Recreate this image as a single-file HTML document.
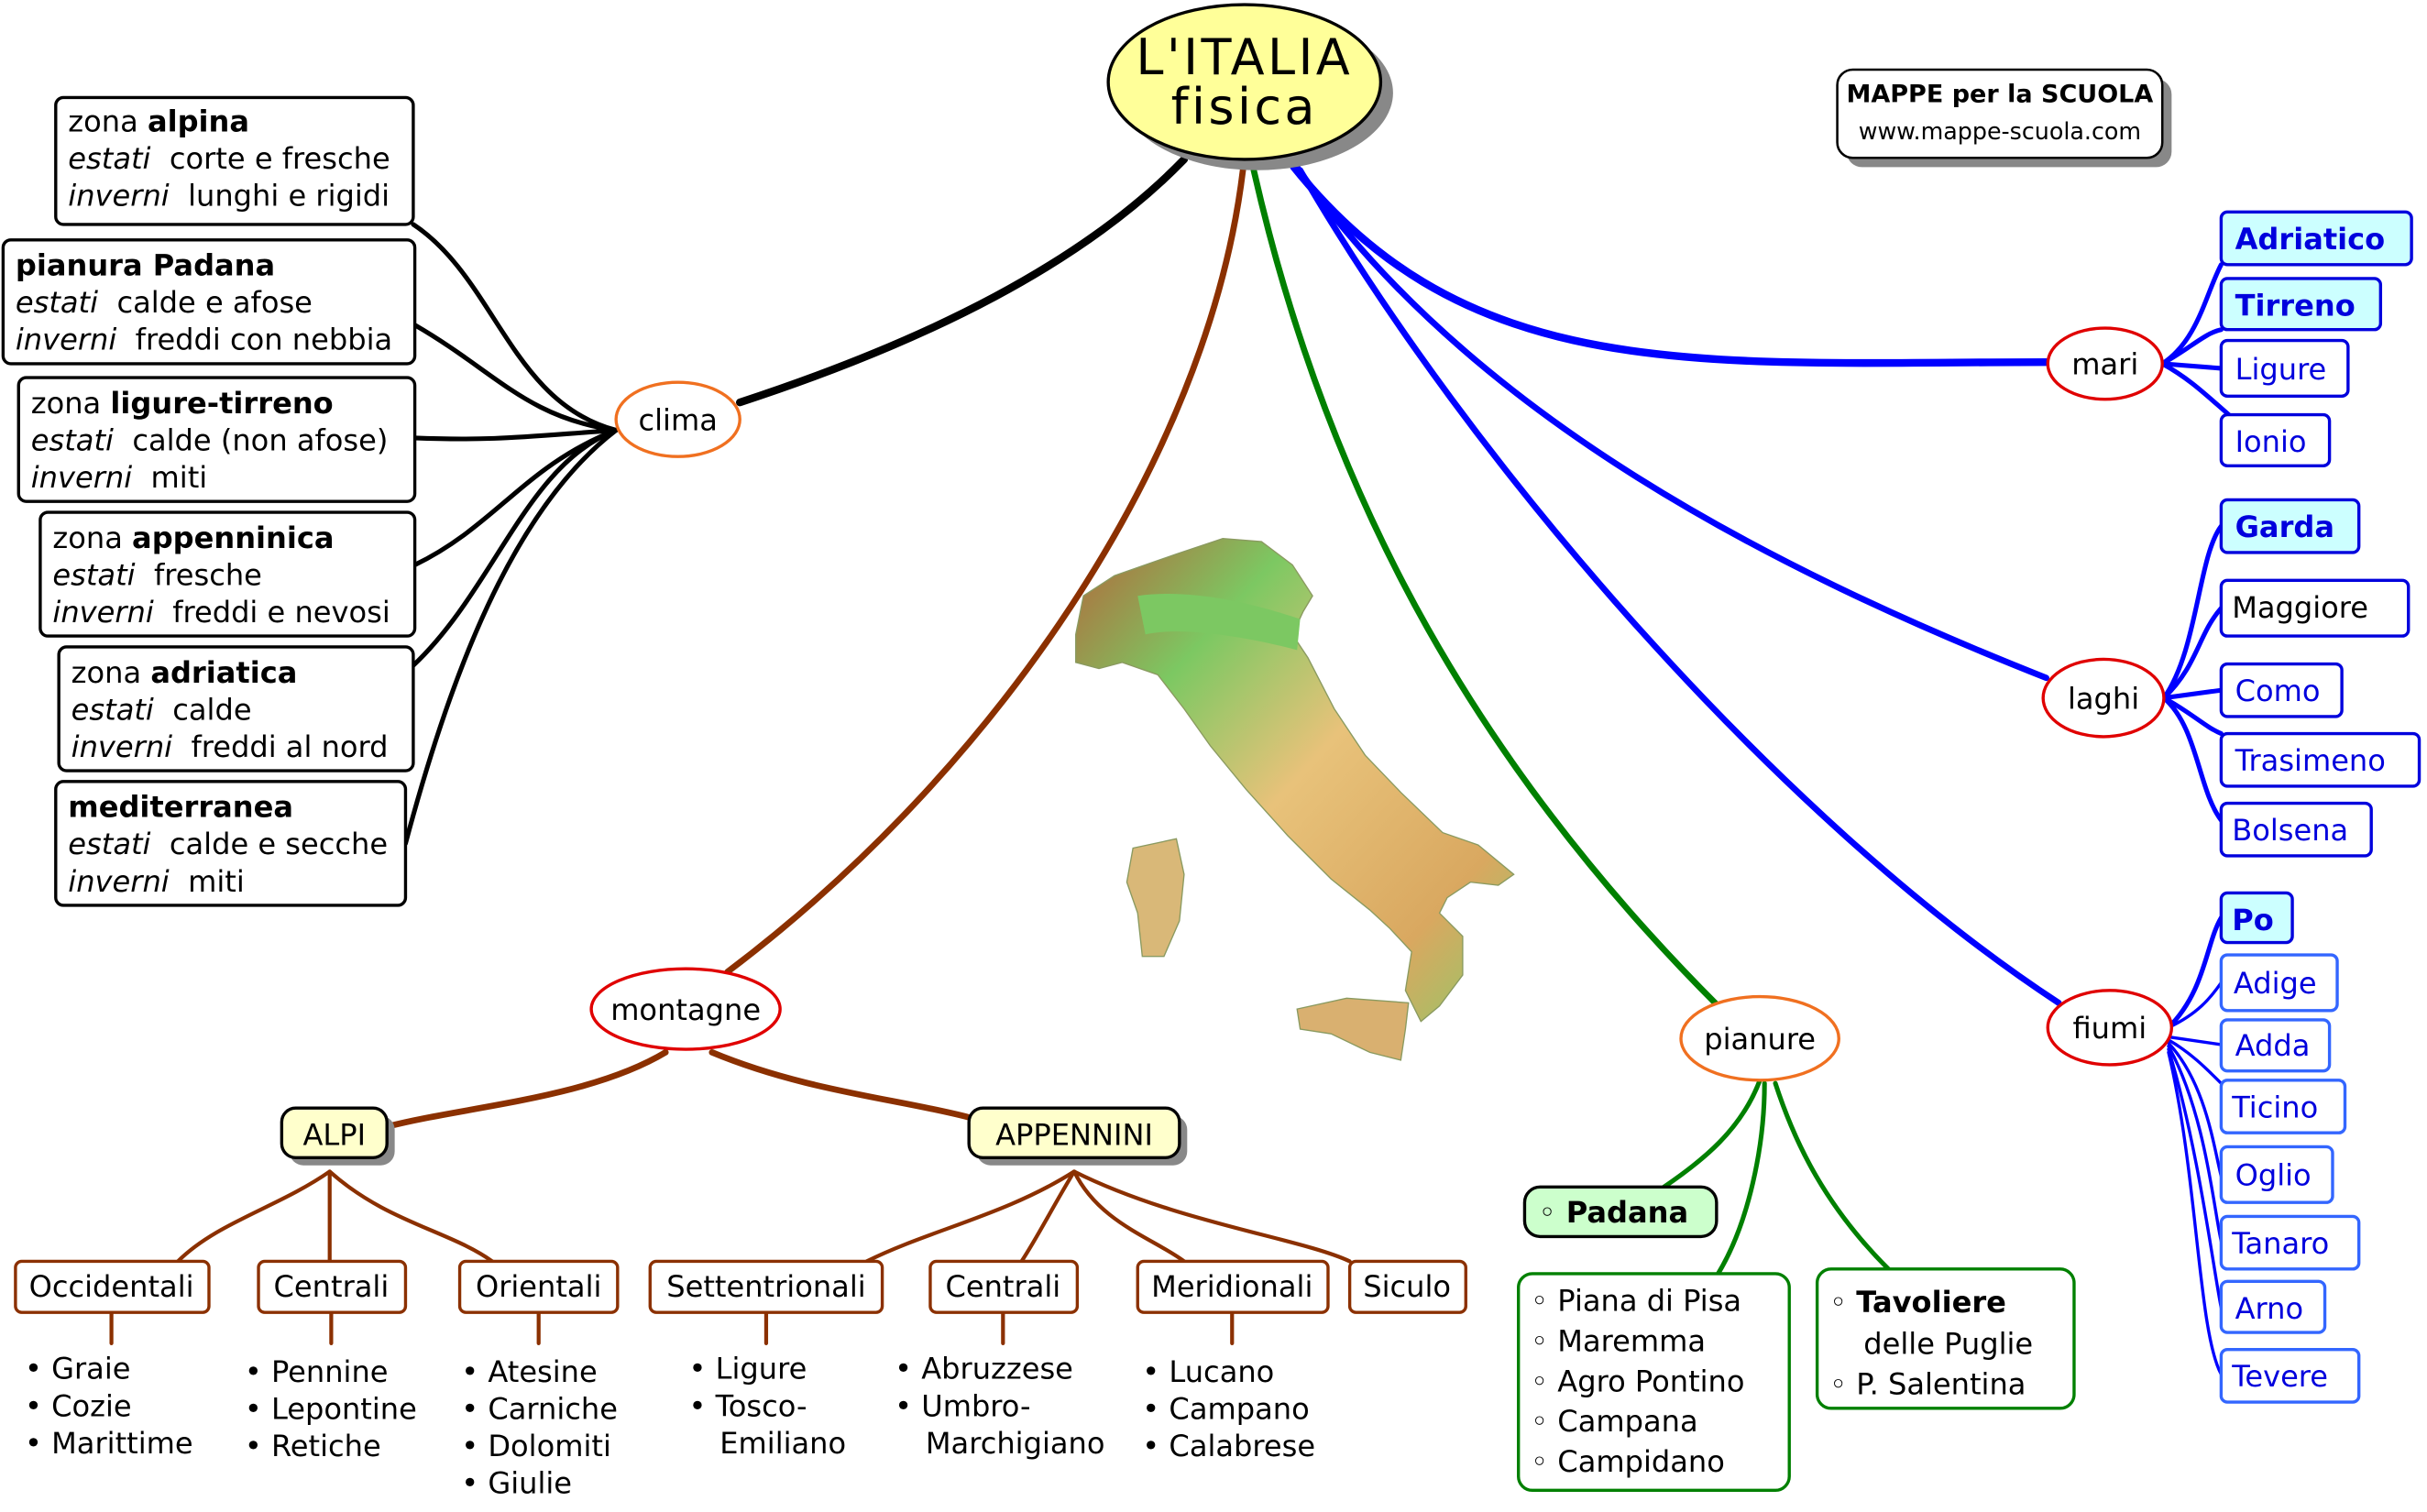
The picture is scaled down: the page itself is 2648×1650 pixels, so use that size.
<!DOCTYPE html>
<html><head><meta charset="utf-8"><style>
html,body{margin:0;padding:0;background:#fff}
svg{display:block}
text{font-family:"DejaVu Sans","Liberation Sans",sans-serif;font-size:19px;white-space:pre}
</style></head><body>
<svg width="2648" height="1650" viewBox="0 0 1568 977" preserveAspectRatio="none" xmlns="http://www.w3.org/2000/svg" xml:space="preserve">
<defs>
<linearGradient id="it" x1="0" y1="0" x2="1" y2="1">
<stop offset="0" stop-color="#b5653a"/><stop offset="0.25" stop-color="#7cc862"/><stop offset="0.5" stop-color="#e8c27a"/><stop offset="0.8" stop-color="#d9a860"/><stop offset="1" stop-color="#8ccb6a"/>
</linearGradient>
</defs>
<g fill="none" stroke-linecap="round">
<path d="M478,260 C600,220 700,170 765,103" stroke="#000" stroke-width="5"/>
<path d="M803,110 C780,300 640,500 470,628" stroke="#8b3000" stroke-width="4"/>
<path d="M810,110 C860,330 960,500 1110,650" stroke="#008000" stroke-width="4"/>
<path d="M836,108 C950,250 1100,234 1322,234" stroke="#0000ff" stroke-width="5"/>
<path d="M838,108 C950,270 1150,370 1322,438" stroke="#0000ff" stroke-width="4"/>
<path d="M840,110 C950,300 1150,530 1330,648" stroke="#0000ff" stroke-width="4"/>
<g stroke="#000" stroke-width="3">
<path d="M398,278 C330,260 320,180 267,145"/>
<path d="M398,278 C340,270 320,240 268,210"/>
<path d="M398,278 C340,282 320,285 268,283"/>
<path d="M398,278 C340,300 320,340 268,365"/>
<path d="M398,278 C340,300 320,380 267,430"/>
<path d="M398,278 C330,330 290,440 262,545"/>
</g>
<g stroke="#8b3000" stroke-width="4">
<path d="M430,680 C380,710 300,715 250,728"/>
<path d="M460,680 C520,705 580,710 626,722"/>
</g>
<g stroke="#8b3000" stroke-width="2.5">
<path d="M213,757 C180,780 140,790 115,815"/><path d="M213,757 L213,815"/><path d="M213,757 C250,790 290,795 318,815"/>
<path d="M694,757 C650,785 600,795 560,815"/><path d="M694,757 C680,780 670,800 660,815"/><path d="M694,757 C710,790 745,800 765,815"/><path d="M694,757 C760,790 840,800 872,815"/>
<path d="M72,848 V868"/><path d="M214,848 V868"/><path d="M348,848 V868"/><path d="M495,848 V868"/><path d="M648,848 V868"/><path d="M796,848 V868"/>
</g>
<g stroke="#008000" stroke-width="3">
<path d="M1137,698 C1125,730 1100,750 1075,767"/>
<path d="M1140,700 C1140,740 1130,790 1110,823"/>
<path d="M1147,700 C1160,740 1180,780 1220,820"/>
</g>
<g stroke="#0000ff" stroke-width="3">
<path d="M1397,235 C1420,220 1425,190 1435,171"/>
<path d="M1397,235 C1415,225 1425,215 1435,213"/>
<path d="M1397,235 L1435,238"/>
<path d="M1397,235 C1415,245 1425,255 1440,268"/>
<path d="M1398,451 C1420,420 1420,360 1435,340"/>
<path d="M1398,451 C1420,430 1420,410 1435,393"/>
<path d="M1398,451 L1435,446"/>
<path d="M1398,451 C1415,460 1425,470 1435,474"/>
<path d="M1398,451 C1420,470 1420,510 1435,530"/>
</g>
<g stroke="#0000ff" stroke-width="2">
<path d="M1401,664 C1425,640 1425,610 1435,593" stroke-width="3"/>
<path d="M1401,664 C1420,655 1428,645 1435,635"/>
<path d="M1401,670 L1435,675"/>
<path d="M1401,672 C1415,680 1425,690 1435,700"/>
<path d="M1401,674 C1425,700 1430,740 1435,760"/>
<path d="M1401,676 C1425,720 1430,780 1435,802"/>
<path d="M1401,678 C1420,740 1430,820 1435,845"/>
<path d="M1401,680 C1420,760 1420,860 1435,888"/>
</g>
</g>
<g stroke="#8a9a60" stroke-width="0.8">
<path d="M695,410 L700,385 L720,372 L740,365 L760,358 L790,348 L815,350 L835,365 L848,385 L842,395 L835,410 L845,425 L862,458 L882,488 L905,512 L932,538 L955,546 L978,565 L968,572 L950,570 L935,580 L930,590 L945,605 L945,630 L930,650 L918,660 L908,640 L912,615 L898,600 L885,588 L860,568 L832,540 L805,510 L782,482 L765,458 L748,436 L725,428 L710,432 L695,428 Z" fill="url(#it)"/>
<path d="M838,652 L870,645 L910,648 L908,665 L905,685 L885,680 L860,668 L840,665 Z" fill="#d9b070"/>
<path d="M732,548 L760,542 L765,565 L762,595 L752,618 L738,618 L735,590 L728,570 Z" fill="#d9b878"/>
<path d="M735,385 C770,380 810,390 840,400 L838,420 C800,410 760,405 740,410 Z" fill="#7cc862" stroke="none"/>
</g>
<ellipse cx="812" cy="60" rx="88" ry="50" fill="#888"/>
<ellipse cx="804" cy="53" rx="88" ry="50" fill="#ffff99" stroke="#000" stroke-width="2"/>
<text x="804" y="48" text-anchor="middle" style="font-size:32px;letter-spacing:2px">L'ITALIA</text>
<text x="804" y="80" text-anchor="middle" style="font-size:32px;letter-spacing:2px">fisica</text>
<rect x="1193" y="51" width="210" height="57" rx="10" fill="#888"/>
<rect x="1187" y="45" width="210" height="57" rx="10" fill="#fff" stroke="#000" stroke-width="1.5"/>
<text x="1292" y="66" text-anchor="middle" style="font-size:16px;font-weight:bold">MAPPE per la SCUOLA</text>
<text x="1292" y="90" text-anchor="middle" style="font-size:15px">www.mappe-scuola.com</text>
<ellipse cx="438" cy="271" rx="40" ry="24" fill="#fff" stroke="#f07020" stroke-width="2"/>
<text x="438" y="278" text-anchor="middle">clima</text>
<g fill="#fff" stroke="#000" stroke-width="2">
<rect x="36" y="63" width="231" height="82" rx="5"/>
<rect x="2" y="155" width="266" height="80" rx="5"/>
<rect x="12" y="244" width="256" height="80" rx="5"/>
<rect x="26" y="331" width="242" height="80" rx="5"/>
<rect x="38" y="418" width="229" height="80" rx="5"/>
<rect x="36" y="505" width="226" height="80" rx="5"/>
</g>
<text x="44" y="85">zona <tspan font-weight="bold">alpina</tspan></text>
<text x="44" y="109"><tspan font-style="italic">estati</tspan>  corte e fresche</text>
<text x="44" y="133"><tspan font-style="italic">inverni</tspan>  lunghi e rigidi</text>
<text x="10" y="178" font-weight="bold">pianura Padana</text>
<text x="10" y="202"><tspan font-style="italic">estati</tspan>  calde e afose</text>
<text x="10" y="226"><tspan font-style="italic">inverni</tspan>  freddi con nebbia</text>
<text x="20" y="267">zona <tspan font-weight="bold">ligure-tirreno</tspan></text>
<text x="20" y="291"><tspan font-style="italic">estati</tspan>  calde (non afose)</text>
<text x="20" y="315"><tspan font-style="italic">inverni</tspan>  miti</text>
<text x="34" y="354">zona <tspan font-weight="bold">appenninica</tspan></text>
<text x="34" y="378"><tspan font-style="italic">estati</tspan>  fresche</text>
<text x="34" y="402"><tspan font-style="italic">inverni</tspan>  freddi e nevosi</text>
<text x="46" y="441">zona <tspan font-weight="bold">adriatica</tspan></text>
<text x="46" y="465"><tspan font-style="italic">estati</tspan>  calde</text>
<text x="46" y="489"><tspan font-style="italic">inverni</tspan>  freddi al nord</text>
<text x="44" y="528" font-weight="bold">mediterranea</text>
<text x="44" y="552"><tspan font-style="italic">estati</tspan>  calde e secche</text>
<text x="44" y="576"><tspan font-style="italic">inverni</tspan>  miti</text>
<ellipse cx="443" cy="652" rx="61" ry="26" fill="#fff" stroke="#e00000" stroke-width="2"/>
<text x="443" y="659" text-anchor="middle">montagne</text>
<rect x="187" y="721" width="68" height="32" rx="9" fill="#888"/>
<rect x="182" y="716" width="68" height="32" rx="9" fill="#ffffcc" stroke="#000" stroke-width="2"/>
<text x="216" y="740" text-anchor="middle">ALPI</text>
<rect x="631" y="721" width="136" height="32" rx="9" fill="#888"/>
<rect x="626" y="716" width="136" height="32" rx="9" fill="#ffffcc" stroke="#000" stroke-width="2"/>
<text x="694" y="740" text-anchor="middle">APPENNINI</text>
<g fill="#fff" stroke="#8b3000" stroke-width="2">
<rect x="10" y="815" width="125" height="33" rx="4"/>
<rect x="167" y="815" width="95" height="33" rx="4"/>
<rect x="297" y="815" width="102" height="33" rx="4"/>
<rect x="420" y="815" width="150" height="33" rx="4"/>
<rect x="601" y="815" width="95" height="33" rx="4"/>
<rect x="735" y="815" width="123" height="33" rx="4"/>
<rect x="872" y="815" width="75" height="33" rx="4"/>
</g>
<g text-anchor="middle">
<text x="72" y="838">Occidentali</text><text x="214" y="838">Centrali</text><text x="348" y="838">Orientali</text>
<text x="495" y="838">Settentrionali</text><text x="648" y="838">Centrali</text><text x="796" y="838">Meridionali</text><text x="909" y="838">Siculo</text>
</g>
<text x="16" y="891">• Graie</text><text x="16" y="915">• Cozie</text><text x="16" y="939">• Marittime</text>
<text x="158" y="893">• Pennine</text><text x="158" y="917">• Lepontine</text><text x="158" y="941">• Retiche</text>
<text x="298" y="893">• Atesine</text><text x="298" y="917">• Carniche</text><text x="298" y="941">• Dolomiti</text><text x="298" y="965">• Giulie</text>
<text x="445" y="891">• Ligure</text><text x="445" y="915">• Tosco-</text><text x="465" y="939">Emiliano</text>
<text x="578" y="891">• Abruzzese</text><text x="578" y="915">• Umbro-</text><text x="598" y="939">Marchigiano</text>
<text x="738" y="893">• Lucano</text><text x="738" y="917">• Campano</text><text x="738" y="941">• Calabrese</text>
<ellipse cx="1137" cy="671" rx="51" ry="27" fill="#fff" stroke="#f07020" stroke-width="2"/>
<text x="1137" y="678" text-anchor="middle">pianure</text>
<rect x="985" y="767" width="124" height="32" rx="10" fill="#ccffcc" stroke="#000" stroke-width="2"/>
<text x="994" y="790" font-weight="bold"><tspan font-weight="normal">◦</tspan> Padana</text>
<rect x="981" y="823" width="175" height="140" rx="9" fill="#fff" stroke="#008000" stroke-width="2"/>
<text x="989" y="847">◦ Piana di Pisa</text><text x="989" y="873">◦ Maremma</text><text x="989" y="899">◦ Agro Pontino</text><text x="989" y="925">◦ Campana</text><text x="989" y="951">◦ Campidano</text>
<rect x="1174" y="820" width="166" height="90" rx="9" fill="#fff" stroke="#008000" stroke-width="2"/>
<text x="1182" y="848"><tspan>◦</tspan> <tspan font-weight="bold">Tavoliere</tspan></text>
<text x="1204" y="875">delle Puglie</text>
<text x="1182" y="901">◦ P. Salentina</text>
<g fill="#fff" stroke="#e00000" stroke-width="2">
<ellipse cx="1360" cy="235" rx="37" ry="23"/>
<ellipse cx="1359" cy="451" rx="39" ry="25"/>
<ellipse cx="1363" cy="664" rx="40" ry="24"/>
</g>
<g text-anchor="middle"><text x="1360" y="242">mari</text><text x="1359" y="458">laghi</text><text x="1363" y="671">fiumi</text></g>
<g stroke="#0000dd" stroke-width="2">
<rect x="1435" y="137" width="123" height="34" rx="4" fill="#ccffff"/>
<rect x="1435" y="180" width="103" height="33" rx="4" fill="#ccffff"/>
<rect x="1435" y="220" width="82" height="36" rx="4" fill="#fff"/>
<rect x="1435" y="268" width="70" height="33" rx="4" fill="#fff"/>
<rect x="1435" y="323" width="89" height="34" rx="4" fill="#ccffff"/>
<rect x="1435" y="375" width="121" height="36" rx="4" fill="#fff"/>
<rect x="1435" y="429" width="78" height="34" rx="4" fill="#fff"/>
<rect x="1435" y="474" width="128" height="34" rx="4" fill="#fff"/>
<rect x="1435" y="519" width="97" height="34" rx="4" fill="#fff"/>
<rect x="1435" y="577" width="46" height="32" rx="4" fill="#ccffff"/>
</g>
<g stroke="#3366ff" stroke-width="2" fill="#fff">
<rect x="1435" y="617" width="75" height="36" rx="4"/>
<rect x="1435" y="659" width="70" height="33" rx="4"/>
<rect x="1435" y="698" width="80" height="34" rx="4"/>
<rect x="1435" y="741" width="72" height="36" rx="4"/>
<rect x="1435" y="786" width="89" height="34" rx="4"/>
<rect x="1435" y="828" width="67" height="33" rx="4"/>
<rect x="1435" y="872" width="89" height="34" rx="4"/>
</g>
<g fill="#0000dd">
<text x="1444" y="161" font-weight="bold">Adriatico</text>
<text x="1444" y="204" font-weight="bold">Tirreno</text>
<text x="1444" y="245">Ligure</text>
<text x="1444" y="292">Ionio</text>
<text x="1444" y="347" font-weight="bold">Garda</text>
<text x="1442" y="399" fill="#000">Maggiore</text>
<text x="1444" y="453">Como</text>
<text x="1444" y="498">Trasimeno</text>
<text x="1442" y="543">Bolsena</text>
<text x="1442" y="601" font-weight="bold">Po</text>
<text x="1443" y="642">Adige</text>
<text x="1444" y="682">Adda</text>
<text x="1442" y="722">Ticino</text>
<text x="1444" y="766">Oglio</text>
<text x="1442" y="810">Tanaro</text>
<text x="1444" y="852">Arno</text>
<text x="1442" y="896">Tevere</text>
</g>
</svg>
</body></html>
